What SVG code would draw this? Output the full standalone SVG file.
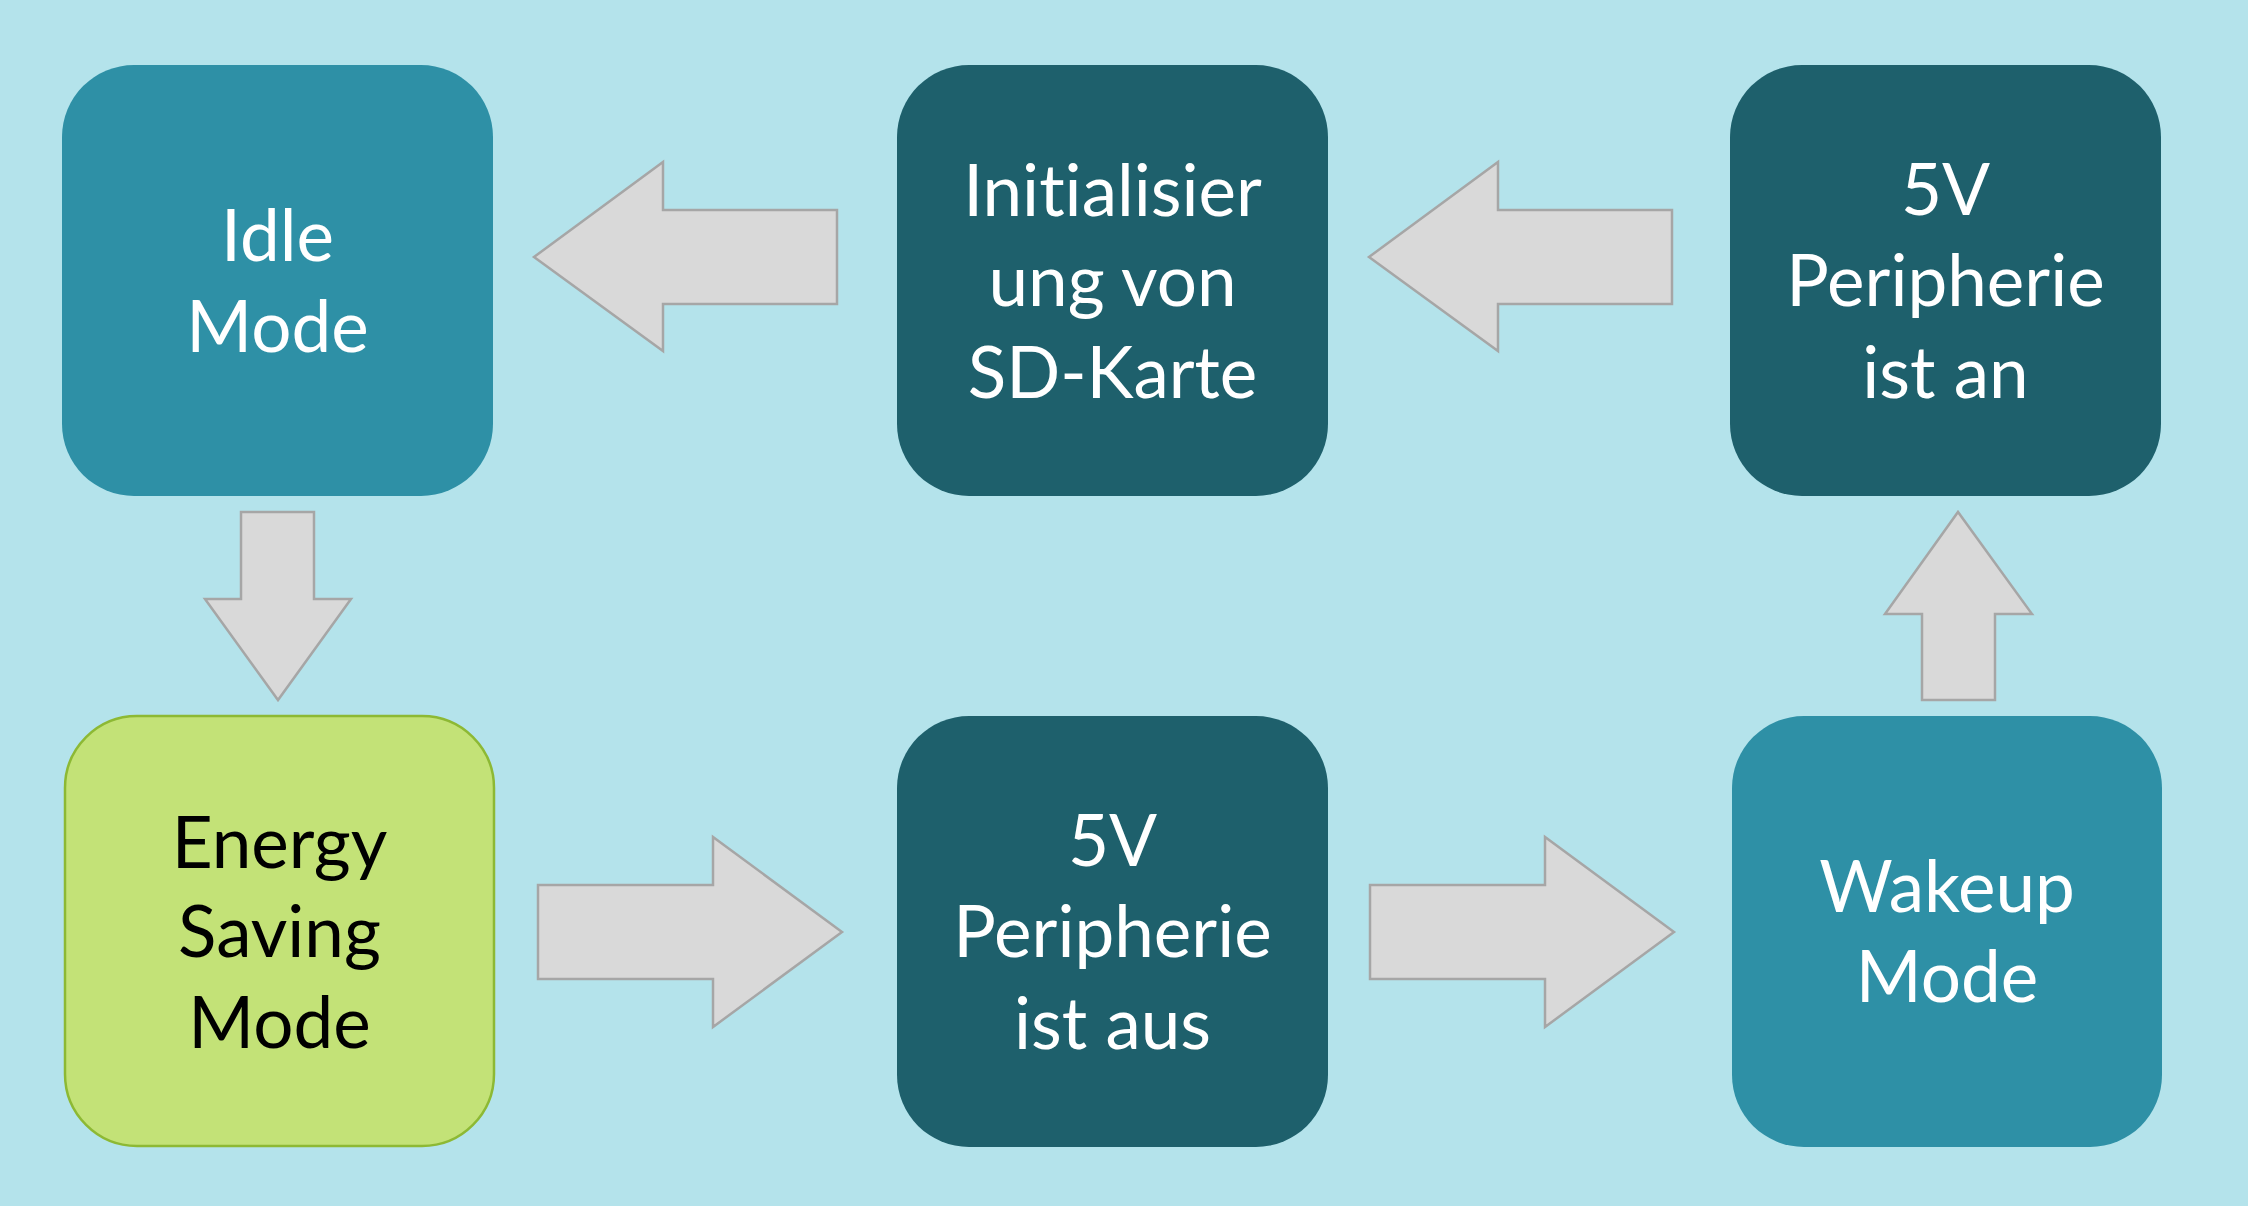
<svg xmlns="http://www.w3.org/2000/svg" width="2248" height="1206" viewBox="0 0 2248 1206">
  <style>
    .bg { fill: #B4E3EB; }
    .mid { fill: #2E90A6; }
    .dark { fill: #1E606C; }
    .green { fill: #C3E277; stroke: #8DB934; stroke-width: 2.5; }
    .arrow { fill: #D9D9D9; stroke: #A6A6A6; stroke-width: 2.5; stroke-linejoin: miter; }
    text { font-family: Lato, "Open Sans", "Liberation Sans", sans-serif; font-size: 71px; text-anchor: middle; font-variant-ligatures: none; font-feature-settings: "liga" 0, "clig" 0; }
    .w { fill: #FFFFFF; }
    .b { fill: #000000; }
  </style>
  <rect class="bg" x="0" y="0" width="2248" height="1206"/>

  <g id="connectors">
    <polygon class="arrow" points="534,257 663,162 663,210 837,210 837,304 663,304 663,351"/>
    <polygon class="arrow" points="1369,257 1498,162 1498,210 1672,210 1672,304 1498,304 1498,351"/>
    <polygon class="arrow" points="241,512 314,512 314,599 351,599 278,700 205,599 241,599"/>
    <polygon class="arrow" points="538,885 713,885 713,837 842,932 713,1027 713,979 538,979"/>
    <polygon class="arrow" points="1370,885 1545,885 1545,837 1674,932 1545,1027 1545,979 1370,979"/>
    <polygon class="arrow" points="1922,700 1995,700 1995,614 2032,614 1958,512 1885,614 1922,614"/>
  </g>

  <g id="idle">
    <rect class="mid" x="62" y="65" width="431" height="431" rx="72" ry="72"/>
    <text class="w" x="277.5" y="261">Idle</text>
    <text class="w" x="277.5" y="352">Mode</text>
  </g>

  <g id="init">
    <rect class="dark" x="897" y="65" width="431" height="431" rx="72" ry="72"/>
    <text class="w" x="1112.5" y="216">Initialisier</text>
    <text class="w" x="1112.5" y="306">ung von</text>
    <text class="w" x="1112.5" y="398">SD-Karte</text>
  </g>

  <g id="p5v-an">
    <rect class="dark" x="1730" y="65" width="431" height="431" rx="72" ry="72"/>
    <text class="w" x="1945.5" y="215">5V</text>
    <text class="w" x="1945.5" y="306">Peripherie</text>
    <text class="w" x="1945.5" y="398">ist an</text>
  </g>

  <g id="energy">
    <rect class="green" x="65" y="716" width="429" height="430" rx="72" ry="72"/>
    <text class="b" x="279.5" y="868">Energy</text>
    <text class="b" x="279.5" y="957">Saving</text>
    <text class="b" x="279.5" y="1048">Mode</text>
  </g>

  <g id="p5v-aus">
    <rect class="dark" x="897" y="716" width="431" height="431" rx="72" ry="72"/>
    <text class="w" x="1112.5" y="866">5V</text>
    <text class="w" x="1112.5" y="957">Peripherie</text>
    <text class="w" x="1112.5" y="1049">ist aus</text>
  </g>

  <g id="wakeup">
    <rect class="mid" x="1732" y="716" width="430" height="431" rx="72" ry="72"/>
    <text class="w" x="1947" y="912">Wakeup</text>
    <text class="w" x="1947" y="1002">Mode</text>
  </g>
</svg>
